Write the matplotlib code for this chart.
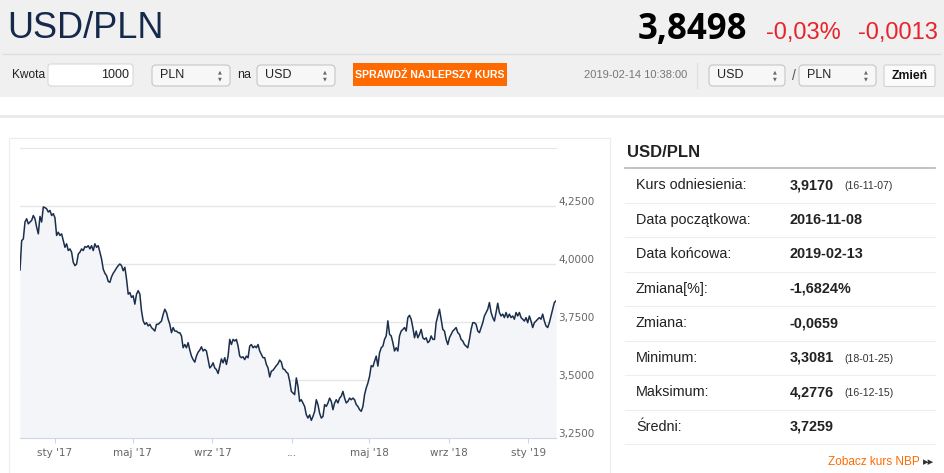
import matplotlib
matplotlib.use("Agg")
import matplotlib.pyplot as plt
import matplotlib.patches as patches
import pandas as pd

plt.rcParams['font.family'] = ['Liberation Sans', 'DejaVu Sans']

# USD/PLN rate, roughly every 2.5 days
start_date = "2016-11-08"
end_date = "2019-02-13"
rates = [
    3.974, 4.101, 4.108, 4.181, 4.195, 4.173, 4.181, 4.188, 4.209, 4.195,
    4.159, 4.130, 4.205, 4.181, 4.246, 4.243, 4.238, 4.224, 4.231, 4.209,
    4.217, 4.199, 4.123, 4.137, 4.123, 4.130, 4.101, 4.072, 4.087, 4.058,
    4.065, 4.051, 4.007, 3.993, 4.000, 4.043, 4.051, 4.065, 4.058, 4.075,
    4.072, 4.079, 4.065, 4.079, 4.058, 4.087, 4.072, 4.079, 4.051, 4.022,
    3.978, 3.960, 3.950, 3.925, 3.921, 3.945, 3.960, 3.971, 3.983, 3.993,
    4.000, 3.993, 3.971, 3.986, 3.935, 3.870, 3.877, 3.856, 3.863, 3.827,
    3.870, 3.885, 3.870, 3.798, 3.755, 3.740, 3.747, 3.733, 3.740, 3.726,
    3.719,
    3.711, 3.740, 3.740, 3.747, 3.754, 3.783, 3.805, 3.791, 3.762, 3.740,
    3.704, 3.726, 3.711, 3.711, 3.704, 3.704, 3.690, 3.639, 3.653, 3.639,
    3.661, 3.629, 3.603, 3.588, 3.577, 3.603, 3.620, 3.629, 3.643, 3.625,
    3.632, 3.625, 3.588, 3.552, 3.560, 3.574, 3.552, 3.545, 3.528, 3.560,
    3.591, 3.574, 3.596, 3.567, 3.603, 3.675, 3.653, 3.675, 3.668, 3.675,
    3.646, 3.603, 3.596, 3.600, 3.588, 3.603, 3.596, 3.646, 3.653, 3.639,
    3.646, 3.639, 3.653, 3.625, 3.610, 3.596, 3.596, 3.567, 3.552, 3.513,
    3.538, 3.542, 3.552, 3.562, 3.570, 3.586, 3.577, 3.548, 3.545, 3.534,
    3.528,
    3.495, 3.451, 3.444, 3.437, 3.509, 3.473, 3.408, 3.415, 3.401, 3.386,
    3.350, 3.336, 3.350, 3.326, 3.343, 3.365, 3.415, 3.394, 3.357, 3.336,
    3.343, 3.394, 3.386, 3.401, 3.422, 3.408, 3.372, 3.401, 3.415, 3.401,
    3.422, 3.430, 3.451, 3.422, 3.401, 3.408, 3.422, 3.415, 3.422, 3.415,
    3.394, 3.386, 3.372, 3.365, 3.386, 3.437, 3.466, 3.487, 3.516, 3.562,
    3.557, 3.581, 3.603, 3.560, 3.617, 3.639, 3.646, 3.675, 3.690, 3.755,
    3.697, 3.690, 3.661, 3.625, 3.639, 3.625, 3.690, 3.711, 3.718, 3.726,
    3.711, 3.769, 3.779, 3.762, 3.726, 3.682, 3.711, 3.682, 3.697, 3.718,
    3.682,
    3.675, 3.682, 3.661, 3.668, 3.690, 3.675, 3.675, 3.747, 3.776, 3.805,
    3.762, 3.718, 3.711, 3.675, 3.653, 3.682, 3.697, 3.711, 3.718, 3.726,
    3.704, 3.697, 3.675, 3.668, 3.653, 3.646, 3.639, 3.675, 3.718, 3.747,
    3.747, 3.740, 3.711, 3.704, 3.726, 3.747, 3.776, 3.791, 3.805, 3.834,
    3.791, 3.769, 3.754, 3.791, 3.831, 3.791, 3.776, 3.784, 3.769, 3.791,
    3.769, 3.784, 3.769, 3.776, 3.762, 3.791, 3.776, 3.791, 3.769, 3.762,
    3.754, 3.769, 3.747, 3.776, 3.754, 3.726, 3.747, 3.754, 3.762, 3.769,
    3.762, 3.784, 3.754, 3.733, 3.726, 3.747, 3.776, 3.805, 3.834, 3.841,
]

tick_dates = ["2017-01-01", "2017-05-01", "2017-09-01", "2018-01-01",
              "2018-05-01", "2018-09-01", "2019-01-01"]
tick_labels = ["sty '17", "maj '17", "wrz '17", "...", "maj '18", "wrz '18", "sty '19"]
y_ticks = [3.25, 3.5, 3.75, 4.0, 4.25]
y_labels = ["3,2500", "3,5000", "3,7500", "4,0000", "4,2500"]

stat_labels = ["Kurs odniesienia:", "Data początkowa:", "Data końcowa:", "Zmiana[%]:",
               "Zmiana:", "Minimum:", "Maksimum:", "Średni:"]
stat_values = ["3,9170", "2016-11-08", "2019-02-13", "-1,6824%",
               "-0,0659", "3,3081", "4,2776", "3,7259"]
stat_dates = ["(16-11-07)", "", "", "", "", "(18-01-25)", "(16-12-15)", ""]

pair = "USD/PLN"
last_rate = "3,8498"
change_pct = "-0,03%"
change_abs = "-0,0013"
amount = "1000"
timestamp = "2019-02-14 10:38:00"

orange = '#ff6a00'
red = '#e8232b'

fig = plt.figure(figsize=(9.45, 4.73), dpi=100)
fig.patch.set_facecolor('white')

# page background drawn in pixel coords
bg = fig.add_axes([0, 0, 1, 1])
bg.set_xlim(0, 945)
bg.set_ylim(473, 0)
bg.axis('off')


def box(x0, y0, x1, y1, fc, ec='none', r=0, lw=0.8):
    if r:
        p = patches.FancyBboxPatch((x0, y0), x1 - x0, y1 - y0,
                                   boxstyle="round,pad=0,rounding_size=%s" % r,
                                   fc=fc, ec=ec, lw=lw)
    else:
        p = patches.Rectangle((x0, y0), x1 - x0, y1 - y0, fc=fc, ec=ec, lw=lw)
    bg.add_patch(p)


def select(x0, x1, label):
    box(x0, 65, x1, 86, '#f7f7f7', '#c6c6c6', r=4)
    bg.text(x0 + 8, 75.5, label, fontsize=9, va='center', color='#222222')
    bg.text(x1 - 10, 72.3, '▲', fontsize=3.6, ha='center', va='center',
            color='#666666', family='DejaVu Sans')
    bg.text(x1 - 10, 78.7, '▼', fontsize=3.6, ha='center', va='center',
            color='#666666', family='DejaVu Sans')


# header band
box(0, 0, 945, 97, '#f0f0f0')
bg.plot([3, 940], [54, 54], color='#dddddd', lw=1)
box(0, 115, 945, 118, '#ebebeb')

bg.text(7, 29, pair, fontsize=26, color='#152a4b', va='center',
        family=['Liberation Sans Narrow', 'Liberation Sans'])
bg.text(747, 39, last_rate, fontsize=25, weight='bold', color='black',
        ha='right', va='baseline', family=['Open Sans', 'Liberation Sans'])
bg.text(841, 39, change_pct, fontsize=17, color=red, ha='right', va='baseline')
bg.text(938, 39, change_abs, fontsize=17, color=red, ha='right', va='baseline')

# converter controls
bg.text(12, 75.5, "Kwota", fontsize=8.6, va='center', color='#222222',
        family=['Liberation Sans Narrow', 'Liberation Sans'])
box(48, 64, 133, 86, 'white', '#d8d8d8', r=3)
bg.text(129, 75.5, amount, fontsize=9, va='center', ha='right', color='#222222')
select(152, 230, "PLN")
bg.text(237, 75.5, "na", fontsize=9, va='center', color='#222222')
select(257, 335, "USD")
box(353, 63.5, 506.5, 86.5, orange)
bg.text(430, 75.5, "SPRAWDŹ NAJLEPSZY KURS", fontsize=7.6, weight='bold',
        color='white', ha='center', va='center',
        family=['Liberation Sans Narrow', 'Liberation Sans'])

bg.text(687, 75.5, timestamp, fontsize=8, color='#777777', ha='right', va='center')
bg.plot([697, 697], [63, 88], color='#dddddd', lw=0.8)
select(709, 785, "USD")
bg.text(794, 76, "/", fontsize=10, color='#555555', ha='center', va='center')
select(799, 876, "PLN")
box(884, 65, 935, 86.5, '#fbfbfb', '#d0d0d0', r=2)
bg.text(909.5, 76, "Zmień", fontsize=8.8, weight='bold', color='#111111',
        ha='center', va='center')

# chart panel frame
box(9, 138, 610, 480, 'white', '#ececec', lw=0.8)

# stats table
bg.text(627, 152, pair, fontsize=12, weight='bold', color='#222222', va='center')
bg.plot([625, 935], [168, 168], color='#bdbdbd', lw=1.3)
for i in range(len(stat_labels)):
    yc = 185 + i * 34.5
    bg.text(636, yc, stat_labels[i], fontsize=10.4, color='#222222', va='center')
    bg.text(790, yc, stat_values[i], fontsize=10.4, weight='bold', color='#222222',
            va='center')
    if stat_dates[i]:
        bg.text(844, yc + 1, stat_dates[i], fontsize=7.6, color='#333333', va='center')
    bg.plot([625, 935], [yc + 17.5, yc + 17.5], color='#eeeeee', lw=0.8)
bg.text(920, 462, "Zobacz kurs NBP", fontsize=8.5, color=orange, ha='right', va='center')
bg.text(928.5, 462, "▸▸", fontsize=8, color='#333333', ha='center', va='center',
        family='DejaVu Sans')

# the chart itself
ax = fig.add_axes([20 / 945, 1 - 438 / 473, 536 / 945, 290 / 473])
ax.patch.set_alpha(0)
dates = pd.date_range(start_date, end_date, periods=len(rates))
ax.fill_between(dates, rates, 3.25, color='#f4f5f8', lw=0)
ax.plot(dates, rates, color='#1b2f4d', lw=1.1)
ax.set_xlim(dates[0], dates[-1])
ax.set_ylim(3.25, 4.5)

ax.set_yticks(y_ticks)
ax.set_yticklabels([])
ax.tick_params(axis='y', length=0)
ax.grid(axis='y', color='#e6e6e6', lw=1)
ax.set_axisbelow(True)
for v, lab in zip(y_ticks, y_labels):
    ax.annotate(lab, (1.0, v), xycoords=ax.get_yaxis_transform(),
                xytext=(2, 4), textcoords='offset pixels', fontsize=7.5,
                color='#666666', va='center', ha='left', family='DejaVu Sans')

ax.set_xticks(pd.to_datetime(tick_dates))
ax.set_xticklabels(tick_labels, family='DejaVu Sans')
ax.tick_params(axis='x', length=3.6, width=0.8, color='#ccd6eb',
               labelcolor='#666666', labelsize=7.5, pad=3.5)

for s in ['left', 'right']:
    ax.spines[s].set_visible(False)
ax.spines['top'].set_color('#e6e6e6')
ax.spines['bottom'].set_color('#ccd6eb')

fig.savefig('out.png', dpi=100)
